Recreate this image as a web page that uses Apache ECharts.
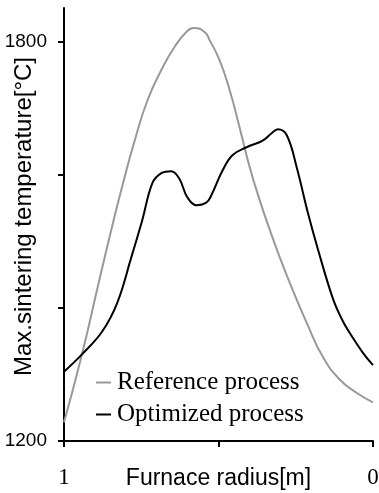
<!DOCTYPE html>
<html>
<head>
<meta charset="utf-8">
<script src="https://cdn.jsdelivr.net/npm/echarts@6/dist/echarts.min.js"></script>
<style>
  html, body { margin: 0; padding: 0; background: #fff; }
  #chart { width: 379px; height: 493px; }
</style>
</head>
<body>
<div id="chart"></div>
<script>
// radius [m] (1 = edge on the left, 0 = centre on the right)
const refRadius = [1.000, 0.942, 0.886, 0.838, 0.805, 0.773, 0.731, 0.685, 0.643, 0.604, 0.578, 0.545, 0.529, 0.497, 0.464, 0.432, 0.399, 0.367, 0.334, 0.302, 0.269, 0.214, 0.162, 0.107, 0.052, 0.000];
const refTemp = [1228, 1330, 1441, 1534, 1594, 1648, 1710, 1757, 1791, 1814, 1820, 1814, 1802, 1772, 1727, 1671, 1611, 1562, 1517, 1476, 1437, 1377, 1326, 1292, 1272, 1258];

const optRadius = [1.000, 0.942, 0.877, 0.828, 0.782, 0.747, 0.714, 0.685, 0.653, 0.627, 0.601, 0.571, 0.539, 0.523, 0.487, 0.455, 0.409, 0.357, 0.328, 0.308, 0.279, 0.247, 0.211, 0.179, 0.130, 0.100, 0.075, 0.032, 0.000];
const optTemp = [1304, 1330, 1364, 1407, 1476, 1531, 1587, 1602, 1605, 1594, 1566, 1554, 1558, 1569, 1606, 1629, 1641, 1651, 1662, 1668, 1659, 1611, 1543, 1489, 1414, 1382, 1362, 1332, 1314];

const yTicks = [1200, 1400, 1600, 1800];
const yLabels = [1200, 1800];
const xTicks = [0, 0.5, 1];
const xLabels = [0, 1];

const pairs = (xs, ys) => xs.map((x, i) => [x, ys[i]]);

const myChart = echarts.init(document.getElementById('chart'), null, { renderer: 'canvas' });
myChart.setOption({
  animation: false,
  grid: { left: 64, right: 6, top: 8, bottom: 52, outerBoundsMode: 'none' },
  legend: {
    orient: 'vertical',
    left: 96,
    top: 370,
    padding: 0,
    itemGap: 7,
    itemWidth: 15,
    itemHeight: 2,
    icon: 'rect',
    textStyle: { fontFamily: 'Liberation Serif', fontSize: 25, color: '#000', padding: [0, 0, 0, 1] },
    data: ['Reference process', 'Optimized process']
  },
  xAxis: {
    type: 'value',
    min: 0,
    max: 1,
    inverse: true,
    position: 'bottom',
    name: 'Furnace radius[m]',
    nameLocation: 'middle',
    nameGap: 26,
    nameMoveOverlap: false,
    nameTextStyle: { fontFamily: 'Liberation Sans', fontSize: 23, color: '#000' },
    axisLine: { onZero: false, lineStyle: { color: '#000', width: 2 } },
    axisTick: { length: 6, customValues: xTicks, lineStyle: { color: '#000', width: 2 } },
    axisLabel: { customValues: xLabels, margin: 25, fontFamily: 'Liberation Serif', fontSize: 23, color: '#000' },
    splitLine: { show: false }
  },
  yAxis: {
    type: 'value',
    min: 1200,
    max: 1850,
    position: 'left',
    name: 'Max.sintering temperature[°C]',
    nameLocation: 'middle',
    nameGap: 28,
    nameRotate: 90,
    nameMoveOverlap: false,
    nameTextStyle: { fontFamily: 'Liberation Sans', fontSize: 24, color: '#000', padding: [0, 0, 0, 16] },
    axisLine: { onZero: false, lineStyle: { color: '#000', width: 2 } },
    axisTick: { length: 6, customValues: yTicks, lineStyle: { color: '#000', width: 2 } },
    axisLabel: {
      customValues: yLabels,
      margin: 17,
      formatter: v => String(v),
      fontFamily: 'Liberation Sans',
      fontSize: 19,
      color: '#000'
    },
    splitLine: { show: false }
  },
  series: [{
    name: 'Reference process',
    type: 'line',
    data: pairs(refRadius, refTemp),
    symbol: 'none',
    smooth: 0.5,
    itemStyle: { color: '#999' },
    lineStyle: { color: '#999', width: 2 }
  }, {
    name: 'Optimized process',
    type: 'line',
    data: pairs(optRadius, optTemp),
    symbol: 'none',
    smooth: 0.4,
    itemStyle: { color: '#000' },
    lineStyle: { color: '#000', width: 2 }
  }]
});

window.addEventListener('resize', function() {
  myChart.resize();
});
</script>
</body>
</html>
